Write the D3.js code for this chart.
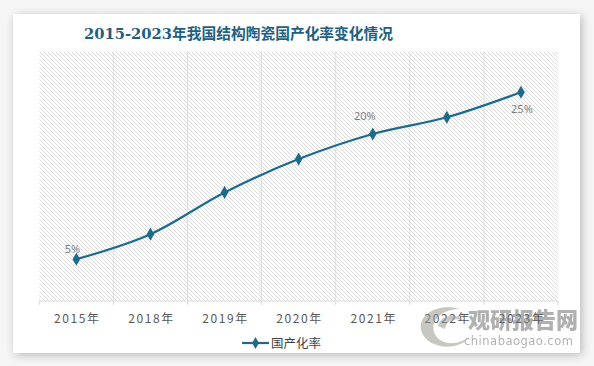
<!DOCTYPE html>
<html><head><meta charset="utf-8">
<script src="https://cdn.jsdelivr.net/npm/d3@7"></script>
<style>
html,body{margin:0;padding:0;background:#f7f7f7;}
svg{display:block;}
</style></head>
<body>
<svg id="chart" width="594" height="366"></svg>
<script>
const title = "2015-2023年我国结构陶瓷国产化率变化情况";
const categories = ["2015年","2018年","2019年","2020年","2021年","2022年","2023年"];
const values = [5, 8, 13, 17, 20, 22, 25];
const labelShown = ["5%", null, null, null, "20%", null, "25%"];
const seriesName = "国产化率";
const yDomain = [0, 30];

(function(){
const svg = d3.select("#chart");
const defs = svg.append("defs");
const f = defs.append("filter").attr("id","shadow").attr("x","-10%").attr("y","-10%").attr("width","120%").attr("height","120%");
f.append("feGaussianBlur").attr("in","SourceAlpha").attr("stdDeviation",5);
f.append("feOffset").attr("dx",2).attr("dy",2).attr("result","b");
f.append("feComponentTransfer").append("feFuncA").attr("type","linear").attr("slope",0.25);
const m = f.append("feMerge"); m.append("feMergeNode"); m.append("feMergeNode").attr("in","SourceGraphic");

const pat = defs.append("pattern").attr("id","hatch").attr("patternUnits","userSpaceOnUse").attr("width",4).attr("height",4);
pat.append("path").attr("d","M0,0 L4,4 M-1,3 L1,5 M3,-1 L5,1").attr("stroke","#d2d2d2").attr("stroke-width",0.8);

svg.append("rect").attr("width",594).attr("height",366).attr("fill","#f5f5f5");
svg.append("rect").attr("x",13).attr("y",14).attr("width",567).attr("height",339).attr("fill","#fff").attr("filter","url(#shadow)");

const pl = 39.3, pr = 558, pt = 50.5, pb = 301;
const x = d3.scaleBand().domain(categories).range([pl, pr]);
const y = d3.scaleLinear().domain(yDomain).range([pb, pt]);

svg.append("text").attr("x",84).attr("y",39)
  .attr("font-family","'DejaVu Serif','Noto Sans CJK SC',serif").attr("font-weight","bold")
  .attr("font-size",15).attr("fill","#1f5f80")
  .attr("textLength",309).attr("lengthAdjust","spacingAndGlyphs").text(title);

svg.append("rect").attr("x",pl).attr("y",pt+1).attr("width",pr-pl).attr("height",pb-pt-1).attr("fill","url(#hatch)");

const bounds = categories.map(c => x(c)).concat([pr]);
svg.append("g").selectAll("line").data(bounds.slice(1,-1)).join("line")
  .attr("x1",d=>d).attr("x2",d=>d).attr("y1",pt+1).attr("y2",pb)
  .attr("stroke","#dedede").attr("stroke-width",1);

const axis = svg.append("g").attr("transform",`translate(0,${pb})`);
axis.append("line").attr("x1",pl).attr("x2",pr).attr("stroke","#d9d9d9").attr("stroke-width",1.2);
axis.selectAll("line.tk").data(bounds).join("line").attr("class","tk")
  .attr("x1",d=>d).attr("x2",d=>d).attr("y1",0).attr("y2",4).attr("stroke","#d9d9d9");
axis.selectAll("text").data(categories).join("text")
  .attr("x",d=>x(d)+x.bandwidth()/2+1).attr("y",22).attr("text-anchor","middle")
  .attr("font-family","'Noto Sans CJK SC',sans-serif").attr("font-size",12)
  .attr("letter-spacing","1.6px").attr("fill","#595959").text(d=>d);

const pts = categories.map((c,i)=>[x(c)+x.bandwidth()/2, y(values[i])]);
const lineGen = d3.line().curve(d3.curveCatmullRom.alpha(0.5));
const color = "#1d6a8c";
svg.append("path").attr("d",lineGen(pts)).attr("fill","none").attr("stroke",color).attr("stroke-width",2.2);

const diamond = d3.symbol().type(d3.symbolDiamond).size(50);
svg.append("g").selectAll("path").data(pts).join("path")
  .attr("transform",d=>`translate(${d[0]},${d[1]})`).attr("d",diamond).attr("fill",color);

const offsets = [[-4,-10],null,null,null,[-8,-18],null,[1,17]];
const lab = pts.map((p,i)=>({p, i})).filter(d=>labelShown[d.i]);
svg.append("g").selectAll("text").data(lab).join("text")
  .attr("x",d=>d.p[0]+offsets[d.i][0])
  .attr("y",d=>d.p[1]+offsets[d.i][1]+4)
  .attr("text-anchor","middle").attr("font-family","'Noto Sans',sans-serif").attr("font-size",11)
  .attr("fill","#7f7f7f").text(d=>labelShown[d.i]);

const lg = svg.append("g").attr("transform","translate(242,343)");
lg.append("line").attr("x1",0).attr("x2",27).attr("stroke",color).attr("stroke-width",2.2);
lg.append("path").attr("transform","translate(13.5,0)").attr("d",d3.symbol().type(d3.symbolDiamond).size(40)).attr("fill",color);
lg.append("text").attr("x",29).attr("y",4.5).attr("font-family","'Noto Sans CJK SC',sans-serif").attr("font-size",12.5).attr("fill","#404040").text(seriesName);

const wm = svg.append("g").attr("opacity",0.55);
wm.append("path").attr("d","M421,330 C418,313 440,303 460,309 C445,309 430,318 434,332 C438,345 458,347 470,336 C460,352 426,350 421,330 Z").attr("fill","#9a9a90");
wm.append("path").attr("d","M438,326 C440,315 456,312 464,321 C455,317 446,320 445,329 Z").attr("fill","#9a9a90");
wm.append("text").attr("x",468).attr("y",328).attr("font-family","'Noto Sans CJK SC',sans-serif").attr("font-weight","900")
  .attr("font-size",22).attr("fill","#707070").text("观研报告网");
wm.append("text").attr("x",464).attr("y",345).attr("font-family","'DejaVu Sans',sans-serif")
  .attr("font-size",11.5).attr("fill","#707070").attr("letter-spacing","0.5px").text("chinabaogao.com");
})();
</script>
</body></html>
